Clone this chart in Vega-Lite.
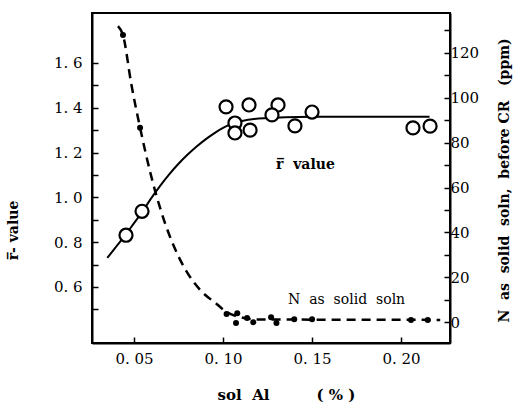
{
  "$schema": "https://vega.github.io/schema/vega-lite/v6.json",
  "width": 358,
  "height": 330,
  "autosize": {"type": "none"},
  "padding": {"left": 92, "top": 13, "right": 66, "bottom": 67},
  "background": "white",
  "config": {
    "font": "DejaVu Serif",
    "text": {"font": "DejaVu Serif"},
    "view": {"stroke": "black", "strokeWidth": 2},
    "axis": {"domainColor": "black", "domainWidth": 2, "tickColor": "black", "tickWidth": 1.5, "labelColor": "black", "titleColor": "black", "labelFont": "DejaVu Serif", "titleFont": "DejaVu Serif", "labelFontSize": 15, "titleFontSize": 14, "titleFontWeight": "bold", "grid": false}
  },
  "datasets": {
    "rcurve": [
      {"x": 0.035, "y": 0.73}, {"x": 0.040, "y": 0.78}, {"x": 0.045, "y": 0.83}, {"x": 0.050, "y": 0.885},
      {"x": 0.055, "y": 0.94}, {"x": 0.060, "y": 1.0}, {"x": 0.065, "y": 1.055}, {"x": 0.070, "y": 1.105},
      {"x": 0.075, "y": 1.15}, {"x": 0.080, "y": 1.19}, {"x": 0.085, "y": 1.226}, {"x": 0.090, "y": 1.258},
      {"x": 0.095, "y": 1.286}, {"x": 0.100, "y": 1.31}, {"x": 0.105, "y": 1.328}, {"x": 0.110, "y": 1.34},
      {"x": 0.120, "y": 1.352}, {"x": 0.150, "y": 1.36}, {"x": 0.216, "y": 1.36}
    ],
    "rpts": [
      {"x": 0.0455, "y": 0.831}, {"x": 0.0545, "y": 0.938},
      {"x": 0.1017, "y": 1.404}, {"x": 0.1146, "y": 1.4125}, {"x": 0.1309, "y": 1.4125},
      {"x": 0.1275, "y": 1.368}, {"x": 0.1067, "y": 1.332}, {"x": 0.1067, "y": 1.2875},
      {"x": 0.1152, "y": 1.30}, {"x": 0.1404, "y": 1.319}, {"x": 0.150, "y": 1.381},
      {"x": 0.2067, "y": 1.31}, {"x": 0.2163, "y": 1.318}
    ],
    "ncurve": [
      {"x": 0.041, "y": 132}, {"x": 0.0438, "y": 128}, {"x": 0.0485, "y": 106}, {"x": 0.0534, "y": 86.7}, {"x": 0.060, "y": 64},
      {"x": 0.065, "y": 50}, {"x": 0.070, "y": 38.5}, {"x": 0.0758, "y": 28}, {"x": 0.080, "y": 22},
      {"x": 0.087, "y": 14.5}, {"x": 0.0966, "y": 8}, {"x": 0.102, "y": 4.5}, {"x": 0.110, "y": 2.2},
      {"x": 0.120, "y": 1.2}, {"x": 0.222, "y": 1}
    ],
    "npts": [
      {"x": 0.0438, "y": 128}, {"x": 0.0534, "y": 86.7},
      {"x": 0.102, "y": 3.6}, {"x": 0.108, "y": 4}, {"x": 0.1073, "y": -0.4}, {"x": 0.1135, "y": 1.8},
      {"x": 0.117, "y": 0}, {"x": 0.127, "y": 2.2}, {"x": 0.130, "y": -0.4}, {"x": 0.140, "y": 1.3},
      {"x": 0.150, "y": 1.3}, {"x": 0.2056, "y": 0.9}, {"x": 0.215, "y": 0.9}
    ],
    "rlabel": [{"x": 0.1298, "y": 1.145, "t": "r̅\u00a0\u00a0value"}],
    "nlabel": [{"x": 0.1365, "y": 9.8, "t": "N\u00a0\u00a0as\u00a0\u00a0solid\u00a0\u00a0soln"}]
  },
  "resolve": {"scale": {"y": "independent"}},
  "encoding": {
    "x": {
      "field": "x", "type": "quantitative",
      "scale": {"domain": [0.0264, 0.2275], "nice": false, "zero": false},
      "axis": {
        "values": [0.05, 0.10, 0.15, 0.20], "tickSize": -6, "labelPadding": 14,
        "labelExpr": "replace(format(datum.value, '.2f'), '.', '.\u00a0')",
        "title": "sol\u00a0\u00a0Al\u00a0\u00a0\u00a0\u00a0\u00a0\u00a0\u00a0\u00a0\u00a0(\u00a0%\u00a0)", "titleX": 194, "titleY": 44, "titleFontSize": 15
      }
    }
  },
  "layer": [
    {
      "encoding": {
        "y": {
          "field": "y", "type": "quantitative",
          "scale": {"domain": [0.35, 1.823], "nice": false, "zero": false},
          "axis": {
            "orient": "left",
            "values": [0.5, 0.6, 0.7, 0.8, 0.9, 1.0, 1.1, 1.2, 1.3, 1.4, 1.5, 1.6],
            "tickSize": -6, "labelPadding": 16,
            "labelExpr": "round(datum.value*10)%2==0 ? replace(format(datum.value, '.1f'), '.', '.\u00a0') : ''",
            "title": "r̅-\u00a0value", "titleX": -72, "titleY": 217, "titleAngle": -90
          }
        }
      },
      "layer": [
        {"data": {"name": "rcurve"}, "mark": {"type": "line", "color": "black", "strokeWidth": 2, "interpolate": "monotone"}},
        {"data": {"name": "rpts"}, "mark": {"type": "point", "shape": "circle", "size": 170, "stroke": "black", "strokeWidth": 2.2, "fill": "white", "filled": false, "opacity": 1}},
        {"data": {"name": "rlabel"}, "mark": {"type": "text", "align": "left", "baseline": "middle", "fontSize": 14, "fontWeight": "bold", "color": "black", "font": "DejaVu Serif"}, "encoding": {"text": {"field": "t"}}}
      ]
    },
    {
      "encoding": {
        "y": {
          "field": "y", "type": "quantitative",
          "scale": {"domain": [-9.3, 137.8], "nice": false, "zero": false},
          "axis": {
            "orient": "right",
            "values": [0, 10, 20, 30, 40, 50, 60, 70, 80, 90, 100, 110, 120, 130],
            "tickSize": -6, "labelPadding": 6,
            "labelExpr": "datum.value % 20 == 0 ? datum.value : ''",
            "title": "N\u00a0\u00a0as\u00a0\u00a0solid\u00a0\u00a0soln,\u00a0\u00a0before\u00a0CR\u00a0\u00a0\u00a0(ppm)", "titleX": 61, "titleY": 167, "titleAngle": -90
          }
        }
      },
      "layer": [
        {"data": {"name": "ncurve"}, "mark": {"type": "line", "color": "black", "strokeWidth": 2.5, "strokeDash": [9, 6], "interpolate": "monotone"}},
        {"data": {"name": "npts"}, "mark": {"type": "point", "shape": "circle", "size": 36, "filled": true, "color": "black", "opacity": 1}},
        {"data": {"name": "nlabel"}, "mark": {"type": "text", "align": "left", "baseline": "middle", "fontSize": 14, "color": "black", "font": "DejaVu Serif"}, "encoding": {"text": {"field": "t"}}}
      ]
    }
  ]
}
